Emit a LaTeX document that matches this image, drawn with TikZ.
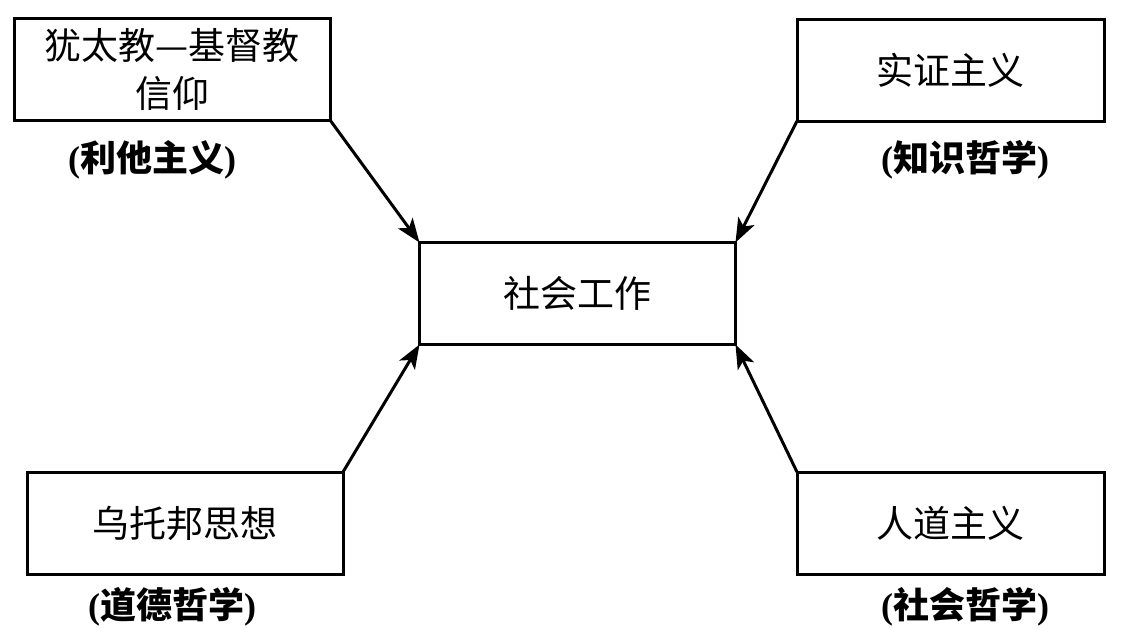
\documentclass[tikz,border=0pt]{standalone}
\usepackage{fontspec}
\setmainfont{Liberation Serif}
\newfontfamily\cjk{Noto Sans CJK SC}
\usetikzlibrary{arrows.meta}
\tikzset{
  idea/.style={draw, line width=1.5pt, minimum width=158pt, minimum height=51pt,
    inner sep=2pt, outer sep=0pt, align=center, font=\cjk\fontsize{18.5}{24}\selectfont},
  tag/.style={font=\bfseries\fontsize{18}{22}\selectfont},
  feed/.style={line width=1.5pt, -{Stealth[length=12pt,width=9pt,inset=3pt]}}
}
\begin{document}
\begin{tikzpicture}[x=0.5pt,y=-0.5pt]
\useasboundingbox (0,0) rectangle (1122,628);

\node[idea] (work) at (577.5,293.5) {社会工作};

\node[idea] (faith) at (172,69) {犹太教—基督教\\信仰};
\node[idea, minimum width=153.5pt] (posit) at (950.5,70) {实证主义};
\node[idea] (utopia) at (185,523) {乌托邦思想};
\node[idea, minimum width=153.5pt] (human) at (950.5,523) {人道主义};

\node[tag] (altru) at (152,160) {({\cjk 利他主义})};
\node[tag] (know) at (965,160) {({\cjk 知识哲学})};
\node[tag] (moral) at (172,607) {({\cjk 道德哲学})};
\node[tag] (social) at (965,607) {({\cjk 社会哲学})};

\draw[feed] (faith.south east) -- (work.north west);
\draw[feed] (posit.south west) -- (work.north east);
\draw[feed] (utopia.north east) -- (work.south west);
\draw[feed] (human.north west) -- (work.south east);

\end{tikzpicture}
\end{document}
